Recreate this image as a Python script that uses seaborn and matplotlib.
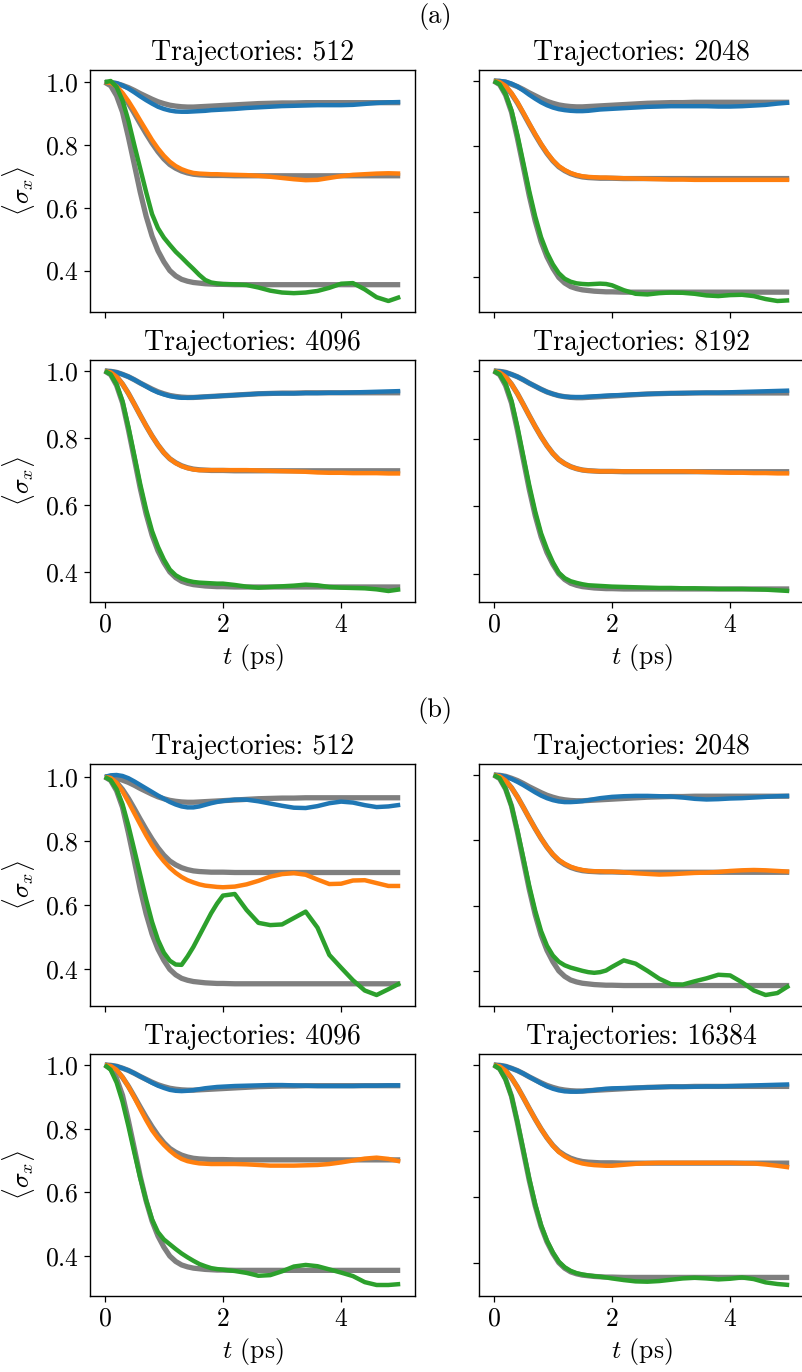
import matplotlib
matplotlib.use("Agg")
import matplotlib.pyplot as plt
import seaborn as sns

# ---------------- data ----------------
T = [0.0, 0.1, 0.2, 0.3, 0.4, 0.5, 0.6, 0.7, 0.8, 0.9, 1.0, 1.1, 1.2, 1.3, 1.4,
     1.5, 1.6, 1.7, 1.8, 1.9, 2.0, 2.2, 2.4, 2.6, 2.8, 3.0, 3.2, 3.4, 3.6, 3.8,
     4.0, 4.2, 4.4, 4.6, 4.8, 5.0]

# exact (grey) reference curves, identical in every panel
REF_BLUE = [1.000, 0.999, 0.996, 0.990, 0.983, 0.974, 0.964, 0.955, 0.946, 0.938, 0.932,
            0.927, 0.924, 0.922, 0.921, 0.921, 0.922, 0.923, 0.924, 0.925, 0.926,
            0.928, 0.930, 0.932, 0.933, 0.934, 0.934, 0.935, 0.935, 0.935, 0.935,
            0.935, 0.935, 0.935, 0.935, 0.935]
REF_ORANGE = [1.000, 0.996, 0.983, 0.961, 0.933, 0.901, 0.868, 0.836, 0.806, 0.779, 0.756,
              0.738, 0.726, 0.717, 0.711, 0.707, 0.705, 0.704, 0.703, 0.703, 0.703,
              0.702, 0.702, 0.702, 0.702, 0.702, 0.702, 0.702, 0.702, 0.702, 0.702,
              0.702, 0.702, 0.702, 0.702, 0.702]
REF_GREEN = [1.000, 0.989, 0.957, 0.905, 0.825, 0.738, 0.650, 0.573, 0.510, 0.463, 0.428,
             0.400, 0.383, 0.372, 0.366, 0.362, 0.360, 0.358, 0.357, 0.356, 0.356,
             0.355, 0.355, 0.355, 0.355, 0.355, 0.355, 0.355, 0.355, 0.355, 0.355,
             0.355, 0.355, 0.355, 0.355, 0.355]

# ---- group (a) ----
A512_BLUE = [1.000, 1.000, 0.997, 0.990, 0.980, 0.968, 0.955, 0.943, 0.932, 0.922, 0.915,
             0.910, 0.907, 0.906, 0.906, 0.907, 0.908, 0.909, 0.911, 0.912, 0.913,
             0.915, 0.918, 0.920, 0.922, 0.924, 0.925, 0.926, 0.927, 0.927, 0.927,
             0.928, 0.931, 0.934, 0.936, 0.937]
A512_ORANGE = [1.000, 0.998, 0.987, 0.966, 0.940, 0.910, 0.878, 0.847, 0.816, 0.789, 0.766,
               0.747, 0.733, 0.723, 0.716, 0.711, 0.709, 0.708, 0.707, 0.707, 0.706,
               0.705, 0.704, 0.702, 0.699, 0.695, 0.691, 0.688, 0.689, 0.695, 0.701,
               0.705, 0.707, 0.709, 0.710, 0.709]
A512_GREEN = [1.000, 1.004, 0.985, 0.942, 0.878, 0.800, 0.725, 0.650, 0.580, 0.535, 0.505,
              0.482, 0.460, 0.442, 0.423, 0.405, 0.386, 0.370, 0.362, 0.359, 0.357,
              0.356, 0.354, 0.346, 0.336, 0.330, 0.328, 0.330, 0.335, 0.345, 0.358,
              0.360, 0.340, 0.315, 0.303, 0.316]

A2048_BLUE = [1.000, 1.000, 0.998, 0.992, 0.983, 0.971, 0.958, 0.946, 0.935, 0.926, 0.919,
              0.914, 0.911, 0.909, 0.908, 0.908, 0.909, 0.911, 0.913, 0.914, 0.915,
              0.917, 0.919, 0.921, 0.922, 0.923, 0.923, 0.923, 0.923, 0.922, 0.922,
              0.923, 0.925, 0.927, 0.931, 0.934]
A2048_ORANGE = [1.000, 0.997, 0.985, 0.963, 0.935, 0.903, 0.870, 0.838, 0.808, 0.781, 0.758,
                0.740, 0.728, 0.719, 0.713, 0.709, 0.707, 0.706, 0.705, 0.705, 0.704,
                0.703, 0.702, 0.701, 0.700, 0.699, 0.699, 0.698, 0.698, 0.698, 0.698,
                0.698, 0.698, 0.698, 0.698, 0.698]
A2048_GREEN = [1.000, 0.990, 0.960, 0.910, 0.835, 0.750, 0.664, 0.587, 0.523, 0.476, 0.440,
               0.413, 0.396, 0.387, 0.382, 0.380, 0.379, 0.380, 0.381, 0.380, 0.376,
               0.361, 0.350, 0.348, 0.352, 0.354, 0.353, 0.350, 0.345, 0.343, 0.346,
               0.347, 0.343, 0.334, 0.328, 0.330]

A4096_BLUE = [1.000, 0.999, 0.996, 0.990, 0.983, 0.974, 0.964, 0.954, 0.944, 0.936, 0.930,
              0.925, 0.922, 0.920, 0.920, 0.921, 0.922, 0.923, 0.924, 0.925, 0.926,
              0.928, 0.930, 0.932, 0.933, 0.933, 0.933, 0.934, 0.934, 0.935, 0.935,
              0.936, 0.937, 0.938, 0.939, 0.940]
A4096_ORANGE = [1.000, 0.996, 0.983, 0.961, 0.933, 0.901, 0.868, 0.836, 0.806, 0.779, 0.756,
                0.738, 0.725, 0.716, 0.710, 0.706, 0.704, 0.704, 0.704, 0.704, 0.704,
                0.704, 0.704, 0.703, 0.702, 0.701, 0.700, 0.699, 0.697, 0.696, 0.696,
                0.695, 0.695, 0.695, 0.694, 0.694]
A4096_GREEN = [1.000, 0.990, 0.960, 0.910, 0.833, 0.748, 0.662, 0.586, 0.522, 0.475, 0.437,
               0.407, 0.390, 0.380, 0.374, 0.370, 0.368, 0.367, 0.366, 0.365, 0.365,
               0.361, 0.356, 0.353, 0.355, 0.357, 0.359, 0.362, 0.360, 0.355, 0.353,
               0.352, 0.351, 0.348, 0.343, 0.348]

A8192_BLUE = [1.000, 0.999, 0.996, 0.990, 0.983, 0.974, 0.964, 0.955, 0.946, 0.938, 0.932,
              0.927, 0.924, 0.923, 0.923, 0.923, 0.924, 0.925, 0.926, 0.927, 0.928,
              0.929, 0.931, 0.932, 0.933, 0.934, 0.935, 0.935, 0.936, 0.936, 0.937,
              0.938, 0.939, 0.940, 0.941, 0.942]
A8192_ORANGE = [1.000, 0.996, 0.983, 0.961, 0.933, 0.901, 0.868, 0.836, 0.806, 0.779, 0.756,
                0.738, 0.726, 0.717, 0.711, 0.707, 0.705, 0.704, 0.703, 0.703, 0.703,
                0.703, 0.703, 0.703, 0.703, 0.703, 0.703, 0.702, 0.701, 0.700, 0.699,
                0.699, 0.698, 0.698, 0.697, 0.697]
A8192_GREEN = [1.000, 0.990, 0.962, 0.912, 0.835, 0.748, 0.662, 0.585, 0.520, 0.473, 0.434,
               0.403, 0.387, 0.378, 0.373, 0.369, 0.366, 0.365, 0.364, 0.363, 0.362,
               0.361, 0.360, 0.359, 0.358, 0.358, 0.357, 0.357, 0.356, 0.355, 0.355,
               0.355, 0.354, 0.353, 0.351, 0.349]

# ---- group (b) ----
B512_BLUE = [1.000, 1.005, 1.006, 1.003, 0.996, 0.986, 0.975, 0.964, 0.953, 0.942, 0.932,
             0.922, 0.914, 0.908, 0.905, 0.905, 0.908, 0.913, 0.918, 0.922, 0.925,
             0.929, 0.929, 0.924, 0.917, 0.910, 0.904, 0.903, 0.909, 0.918, 0.923,
             0.920, 0.912, 0.906, 0.908, 0.913]
B512_ORANGE = [1.000, 0.997, 0.982, 0.955, 0.922, 0.887, 0.852, 0.818, 0.787, 0.760, 0.737,
               0.717, 0.701, 0.688, 0.678, 0.671, 0.665, 0.661, 0.659, 0.657, 0.656,
               0.658, 0.665, 0.676, 0.689, 0.697, 0.700, 0.695, 0.680, 0.666, 0.667,
               0.677, 0.678, 0.669, 0.660, 0.660]
B512_GREEN = [1.000, 0.990, 0.962, 0.915, 0.848, 0.772, 0.695, 0.618, 0.548, 0.492, 0.452,
              0.427, 0.415, 0.414, 0.440, 0.470, 0.505, 0.540, 0.575, 0.605, 0.630,
              0.635, 0.585, 0.545, 0.538, 0.540, 0.560, 0.580, 0.530, 0.445, 0.405,
              0.366, 0.334, 0.320, 0.338, 0.357]

B2048_BLUE = [1.000, 0.999, 0.995, 0.988, 0.979, 0.969, 0.958, 0.947, 0.937, 0.929, 0.923,
              0.919, 0.917, 0.917, 0.918, 0.920, 0.923, 0.926, 0.929, 0.931, 0.933,
              0.935, 0.936, 0.936, 0.935, 0.934, 0.931, 0.927, 0.925, 0.926, 0.928,
              0.929, 0.931, 0.933, 0.935, 0.936]
B2048_ORANGE = [1.000, 0.996, 0.983, 0.961, 0.933, 0.901, 0.868, 0.836, 0.806, 0.779, 0.757,
                0.740, 0.728, 0.719, 0.713, 0.709, 0.706, 0.705, 0.705, 0.704, 0.704,
                0.702, 0.699, 0.697, 0.695, 0.696, 0.698, 0.700, 0.701, 0.703, 0.706,
                0.708, 0.709, 0.708, 0.706, 0.704]
B2048_GREEN = [1.000, 0.990, 0.958, 0.905, 0.830, 0.746, 0.660, 0.585, 0.522, 0.477, 0.447,
               0.428, 0.417, 0.410, 0.405, 0.400, 0.396, 0.394, 0.396, 0.401, 0.412,
               0.432, 0.422, 0.400, 0.376, 0.359, 0.358, 0.368, 0.377, 0.388, 0.386,
               0.365, 0.340, 0.326, 0.332, 0.355]

B4096_BLUE = [1.000, 0.999, 0.996, 0.990, 0.983, 0.974, 0.964, 0.954, 0.944, 0.935, 0.928,
              0.922, 0.919, 0.918, 0.919, 0.921, 0.924, 0.927, 0.929, 0.931, 0.932,
              0.934, 0.935, 0.936, 0.937, 0.937, 0.936, 0.935, 0.934, 0.934, 0.934,
              0.934, 0.935, 0.935, 0.936, 0.936]
B4096_ORANGE = [1.000, 0.997, 0.985, 0.962, 0.932, 0.898, 0.862, 0.827, 0.795, 0.770, 0.749,
                0.731, 0.716, 0.705, 0.698, 0.694, 0.691, 0.690, 0.689, 0.689, 0.689,
                0.689, 0.688, 0.686, 0.684, 0.684, 0.684, 0.685, 0.686, 0.689, 0.694,
                0.700, 0.706, 0.709, 0.705, 0.697]
B4096_GREEN = [1.000, 0.985, 0.945, 0.885, 0.808, 0.725, 0.645, 0.575, 0.515, 0.475, 0.452,
               0.437, 0.422, 0.408, 0.396, 0.385, 0.375, 0.368, 0.362, 0.359, 0.357,
               0.353, 0.347, 0.338, 0.340, 0.352, 0.367, 0.372, 0.368, 0.358, 0.348,
               0.337, 0.318, 0.309, 0.309, 0.312]

B16384_BLUE = [1.000, 0.999, 0.996, 0.990, 0.983, 0.974, 0.964, 0.954, 0.944, 0.935, 0.928,
               0.923, 0.920, 0.919, 0.919, 0.920, 0.922, 0.924, 0.926, 0.928, 0.929,
               0.930, 0.931, 0.932, 0.933, 0.934, 0.934, 0.934, 0.935, 0.935, 0.936,
               0.937, 0.938, 0.939, 0.940, 0.941]
B16384_ORANGE = [1.000, 0.996, 0.983, 0.961, 0.933, 0.901, 0.868, 0.836, 0.806, 0.779, 0.755,
                 0.736, 0.723, 0.713, 0.706, 0.701, 0.698, 0.696, 0.695, 0.694, 0.694,
                 0.697, 0.700, 0.702, 0.703, 0.703, 0.703, 0.703, 0.703, 0.703, 0.703,
                 0.702, 0.701, 0.698, 0.694, 0.689]
B16384_GREEN = [1.000, 0.988, 0.956, 0.905, 0.828, 0.742, 0.655, 0.578, 0.514, 0.467, 0.431,
                0.403, 0.386, 0.375, 0.368, 0.364, 0.361, 0.359, 0.357, 0.355, 0.352,
                0.347, 0.343, 0.342, 0.344, 0.348, 0.352, 0.354, 0.352, 0.349, 0.351,
                0.355, 0.350, 0.340, 0.335, 0.332]

GROUP_LABELS = ["(a)", "(b)"]
TRAJ_A = [512, 2048, 4096, 8192]
TRAJ_B = [512, 2048, 4096, 16384]
X_TICKS = [0, 2, 4]
Y_TICKS = [0.4, 0.6, 0.8, 1.0]

PANELS_A = [(A512_BLUE, A512_ORANGE, A512_GREEN), (A2048_BLUE, A2048_ORANGE, A2048_GREEN),
            (A4096_BLUE, A4096_ORANGE, A4096_GREEN), (A8192_BLUE, A8192_ORANGE, A8192_GREEN)]
PANELS_B = [(B512_BLUE, B512_ORANGE, B512_GREEN), (B2048_BLUE, B2048_ORANGE, B2048_GREEN),
            (B4096_BLUE, B4096_ORANGE, B4096_GREEN), (B16384_BLUE, B16384_ORANGE, B16384_GREEN)]

# ---------------- style ----------------
sns.set_style("ticks")
plt.rcParams.update({
    "font.family": "serif",
    "font.serif": ["cmr10"],
    "mathtext.fontset": "cm",
    "axes.formatter.use_mathtext": True,
    "axes.unicode_minus": False,
    "axes.edgecolor": "black",
    "axes.linewidth": 1.0,
    "xtick.color": "black",
    "ytick.color": "black",
    "xtick.direction": "out",
    "ytick.direction": "out",
    "xtick.major.size": 4.5,
    "ytick.major.size": 4.5,
    "xtick.major.width": 0.9,
    "ytick.major.width": 0.9,
    "text.color": "black",
    "axes.labelcolor": "black",
    "lines.solid_joinstyle": "round",
    "lines.solid_capstyle": "butt",
})

FS = 19
W_PX, H_PX = 803, 1372
fig = plt.figure(figsize=(W_PX / 100, H_PX / 100), dpi=100)

COL_LEFT = [90, 479]
AX_W = 325
AX_H = 242
ROW_TOP = {("a", 0): 70, ("a", 1): 360, ("b", 0): 764, ("b", 1): 1054}
LABEL_Y = {"a": 16, "b": 710}

GREY = "#7f7f7f"
COLORS = ["#1f77b4", "#ff7f0e", "#2ca02c"]
REFS = [REF_BLUE, REF_ORANGE, REF_GREEN]

for gkey, glabel, panels, trajs in [("a", GROUP_LABELS[0], PANELS_A, TRAJ_A),
                                     ("b", GROUP_LABELS[1], PANELS_B, TRAJ_B)]:
    fig.text(435 / W_PX, 1 - LABEL_Y[gkey] / H_PX, glabel, ha="center", va="center",
             fontsize=FS)
    for i, (series, n) in enumerate(zip(panels, trajs)):
        row, col = divmod(i, 2)
        top = ROW_TOP[(gkey, row)]
        ax = fig.add_axes([COL_LEFT[col] / W_PX, 1 - (top + AX_H) / H_PX,
                           AX_W / W_PX, AX_H / H_PX])
        for ref in REFS:
            sns.lineplot(x=T, y=ref, ax=ax, color=GREY, linewidth=3.8, legend=False)
        for s, c in zip(series, COLORS):
            sns.lineplot(x=T, y=s, ax=ax, color=c, linewidth=3.2, legend=False)
        ax.set_xticks(X_TICKS)
        ax.set_yticks(Y_TICKS)
        ax.tick_params(labelsize=FS - 0.5)
        ax.set_title(f"Trajectories: {n}", fontsize=FS + 1, pad=7)
        if row == 0:
            ax.tick_params(labelbottom=False)
            ax.set_xlabel("")
        else:
            ax.set_xlabel(r"$t$ (ps)", fontsize=FS - 0.5, labelpad=4)
        if col == 1:
            ax.tick_params(labelleft=False)
            ax.set_ylabel("")
        else:
            ax.set_ylabel(r"$\langle\sigma_x\rangle$", fontsize=FS - 0.5, labelpad=6)
        for sp in ax.spines.values():
            sp.set_visible(True)

fig.savefig("out.png", dpi=100)
